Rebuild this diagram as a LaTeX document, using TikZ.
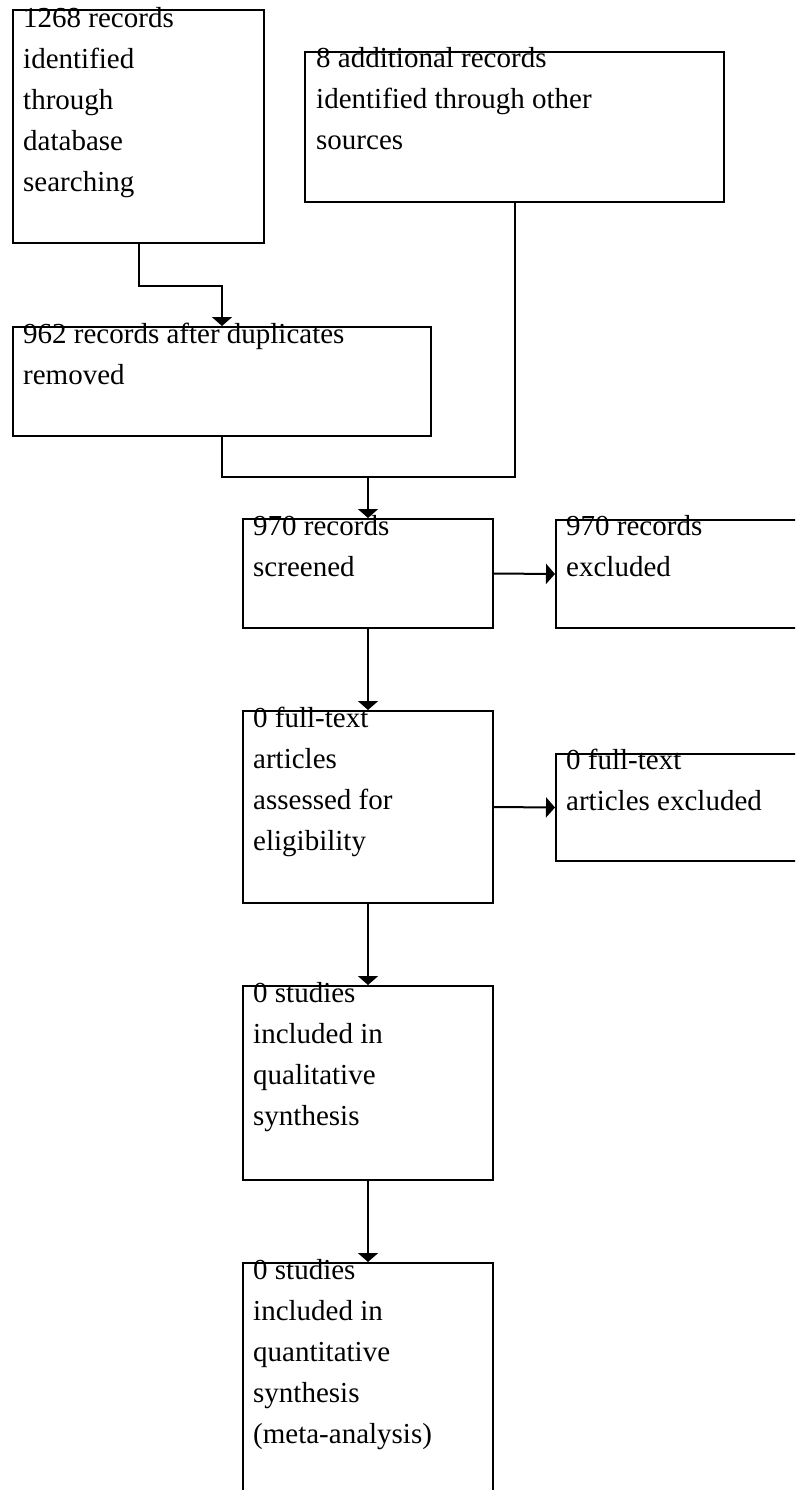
\documentclass[tikz,border=0pt]{standalone}
\usepackage{fontspec}
\setmainfont{Liberation Serif}
\usetikzlibrary{arrows.meta}
\begin{document}
\begin{tikzpicture}[x=1pt,y=-1pt]
	\tikzset{boite/.style={rectangle, draw=black, line width=2pt, anchor=north west, inner sep=0pt},
	texte/.style={anchor=north west, align=left, inner sep=0pt, font=\fontsize{29}{41}\selectfont,
		execute at begin node=\rule{0pt}{22pt}},
	trait/.style={line width=2pt},
	fleche/.style={line width=2pt, -{Triangle[width=20pt,length=9pt]}}};

	\clip (0,0) rectangle (795,1490);

	% identification
	\node[boite, minimum width=251pt, minimum height=233pt] (b1) at (12,9) {};
	\node[texte] (t1) at ([shift={(11,-2)}]b1.north west) {1268 records\\identified\\through\\database\\searching};
	\node[boite, minimum width=419pt, minimum height=150pt] (b2) at (304,51) {};
	\node[texte] (t2) at ([shift={(12,-4)}]b2.north west) {8 additional records\\identified through other\\sources};
	\node[boite, minimum width=418pt, minimum height=109pt] (b3) at (12,326) {};
	\node[texte] (t3) at ([shift={(11,-3)}]b3.north west) {962 records after duplicates\\removed};

	% colonne centrale
	\foreach \nom/\y/\h/\txt in {ecran/518/109/{970 records\\screened},
		eligib/710/192/{0 full-text\\articles\\assessed for\\eligibility},
		quali/985/194/{0 studies\\included in\\qualitative\\synthesis},
		quanti/1262/240/{0 studies\\included in\\quantitative\\synthesis\\(meta-analysis)}}{
		\node[boite, minimum width=250pt, minimum height=\h pt] (\nom) at (242,\y) {};
		\node[texte] (t\nom) at ([shift={(11,-3)}]\nom.north west) {\txt};
	}

	% exclusions
	\node[boite, minimum width=260pt, minimum height=108pt] (excl1) at (555,519) {};
	\node[texte] (texcl1) at ([shift={(11,-4)}]excl1.north west) {970 records\\excluded};
	\node[boite, minimum width=260pt, minimum height=107pt] (excl2) at (555,753) {};
	\node[texte] (texcl2) at ([shift={(11,-4)}]excl2.north west) {0 full-text\\articles excluded};

	\coordinate (jonction) at (ecran.north |- 0,477);

	\draw[fleche] (b1.south) -- ++(0,42) -| (b3.north);
	\draw[trait] (b3.south) |- (jonction);
	\draw[trait] (b2.south) |- (jonction);
	\draw[fleche] (jonction) -- (ecran.north);
	\draw[fleche] (ecran.east) -- (excl1.west);
	\draw[fleche] (eligib.east) -- (excl2.west);
	\draw[fleche] (ecran) -- (eligib);
	\draw[fleche] (eligib) -- (quali);
	\draw[fleche] (quali) -- (quanti);

\end{tikzpicture}
\end{document}
